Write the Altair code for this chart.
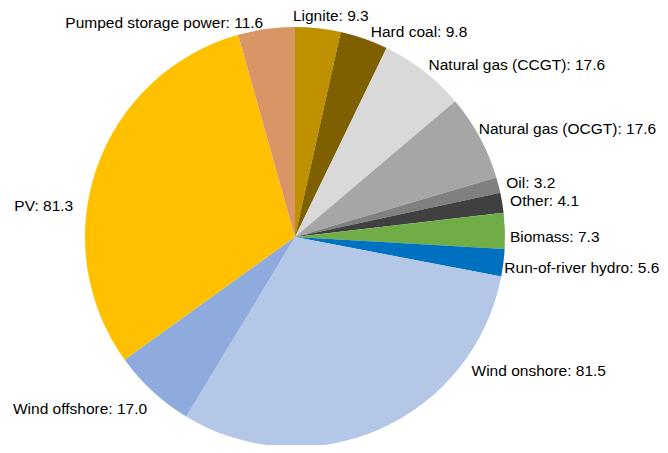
import altair as alt
import pandas as pd

categories = ["Lignite", "Hard coal", "Natural gas (CCGT)", "Natural gas (OCGT)", "Oil", "Other",
              "Biomass", "Run-of-river hydro", "Wind onshore", "Wind offshore", "PV",
              "Pumped storage power"]
values = [9.3, 9.8, 17.6, 17.6, 3.2, 4.1, 7.3, 5.6, 81.5, 17.0, 81.3, 11.6]
colors = ["#BF9000", "#7F6000", "#D9D9D9", "#A6A6A6", "#808080", "#404040",
          "#70AD47", "#0070C0", "#B4C7E7", "#8FAADC", "#FFC000", "#D99565"]

df = pd.DataFrame({"category": categories, "value": values, "idx": list(range(len(values)))})

CX, CY, R, RL = 287, 229, 210, 218
FONT = "Liberation Sans"
FS = 15.5

base = alt.Chart(df)

arcs = base.mark_arc(radius=R).encode(
    theta=alt.Theta("value:Q", stack=True),
    order=alt.Order("idx:Q"),
    color=alt.Color("category:N", scale=alt.Scale(domain=categories, range=colors), legend=None),
    x=alt.value(CX),
    y=alt.value(CY),
)

lab = base.transform_window(
    cum="sum(value)", sort=[alt.SortField("idx")]
).transform_joinaggregate(
    total="sum(value)"
).transform_calculate(
    ang="2*PI*(datum.cum - datum.value/2)/datum.total",
    label="datum.category + ': ' + format(datum.value, '.1f')",
).transform_calculate(
    lx=f"{CX} + {RL}*sin(datum.ang)",
    ly=f"{CY} - {RL}*cos(datum.ang)",
)

enc = dict(
    x=alt.X("lx:Q", scale=None, axis=None),
    y=alt.Y("ly:Q", scale=None, axis=None),
    text="label:N",
)

# label nudges mimicking the spreadsheet's automatic placement
nudges = {
    "Lignite": (-26, -4),
    "Hard coal": (4, 1),
    "Natural gas (OCGT)": (-8, -4),
    "Biomass": (-3, 6),
    "Run-of-river hydro": (-7, 4),
    "Wind onshore": (88, -65),
    "Wind offshore": (0, 12),
    "PV": (-16, 41),
    "Pumped storage power": (-2, 2),
}

layers = [arcs]
for i, cat in enumerate(categories):
    dx, dy = nudges.get(cat, (0, 0))
    side_right = sum(values[:i]) + values[i] / 2 < sum(values) / 2
    layers.append(
        lab.transform_filter(alt.datum.category == cat).mark_text(
            align="left" if side_right else "right", baseline="middle",
            font=FONT, fontSize=FS, color="#000000", dx=dx, dy=dy,
        ).encode(**enc)
    )

chart = alt.layer(*layers).properties(
    width=652, height=437, padding=0, autosize="none"
).configure_view(stroke=None)

chart.save("out.html", embed_options={"renderer": "svg", "actions": False})
